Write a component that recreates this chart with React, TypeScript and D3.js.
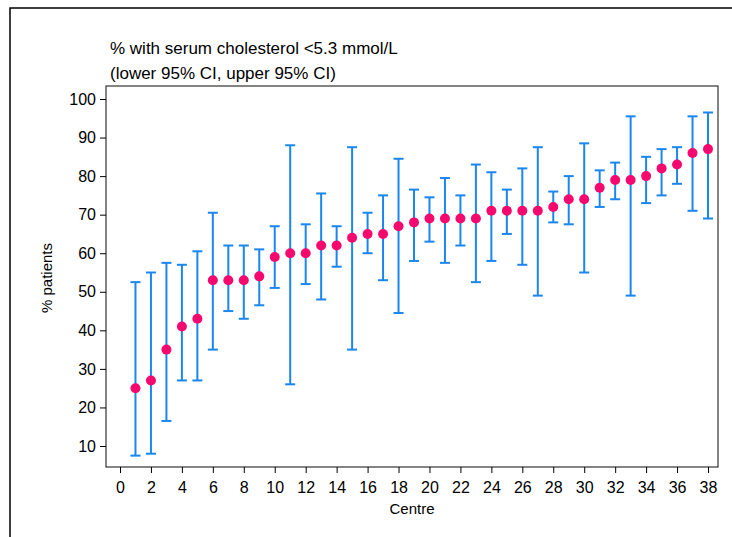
import React, { useRef, useEffect } from 'react';
import * as d3 from "d3";

const centres = d3.range(1, 39);
const pct = [25, 27, 35, 41, 43, 53, 53, 53, 54, 59, 60, 60, 62, 62, 64, 65, 65, 67, 68, 69, 69, 69, 69, 71, 71, 71, 71, 72, 74, 74, 77, 79, 79, 80, 82, 83, 86, 87];
const lower = [7.5, 8, 16.5, 27, 27, 35, 45, 43, 46.5, 51, 26, 52, 48, 56.5, 35, 60, 53, 44.5, 58, 63, 57.5, 62, 52.5, 58, 65, 57, 49, 68, 67.5, 55, 72, 74, 49, 73, 75, 78, 71, 69];
const upper = [52.5, 55, 57.5, 57, 60.5, 70.5, 62, 62, 61, 67, 88, 67.5, 75.5, 67, 87.5, 70.5, 75, 84.5, 76.5, 74.5, 79.5, 75, 83, 81, 76.5, 82, 87.5, 76, 80, 88.5, 81.5, 83.5, 95.5, 85, 87, 87.5, 95.5, 96.5];
const xTicks = d3.range(0, 39, 2);
const yTicks = d3.range(10, 101, 10);

const App: React.FC = () => {
  const svgRef = useRef<SVGSVGElement | null>(null);

  useEffect(() => {
    const svg = d3.select(svgRef.current);
    svg.selectAll("*").remove();
    const font = "Liberation Sans, Arial, sans-serif";

    // outer frame (partly cropped)
    svg.append("path").attr("d", "M10,537 V8 H732").attr("fill", "none").attr("stroke", "#000").attr("stroke-width", 1.5);

    const left = 106, right = 718, top = 86, bottom = 467;
    svg.append("rect").attr("x", left).attr("y", top).attr("width", right - left).attr("height", bottom - top)
      .attr("fill", "none").attr("stroke", "#333").attr("stroke-width", 1.2);

    const x = d3.scaleLinear().domain([0, 38]).range([120, 708]);
    const y = d3.scaleLinear().domain([10, 100]).range([446, 99]);

    svg.append("g").attr("transform", `translate(0,${bottom})`)
      .call(d3.axisBottom(x).tickValues(xTicks).tickSize(6).tickPadding(9))
      .call(g => g.select(".domain").remove())
      .call(g => g.selectAll("text").attr("font-size", 16).attr("font-family", font).attr("fill", "#000"));
    svg.append("g").attr("transform", `translate(${left},0)`)
      .call(d3.axisLeft(y).tickValues(yTicks).tickSize(6).tickPadding(4))
      .call(g => g.select(".domain").remove())
      .call(g => g.selectAll("text").attr("font-size", 16).attr("font-family", font).attr("fill", "#000"));

    svg.append("text").attr("x", 412).attr("y", 514).attr("text-anchor", "middle")
      .attr("font-size", 15).attr("font-family", font).text("Centre");
    svg.append("text").attr("transform", "translate(52,278) rotate(-90)").attr("text-anchor", "middle")
      .attr("font-size", 15).attr("font-family", font).text("% patients");
    svg.append("text").attr("x", 110).attr("y", 54).attr("font-size", 17).attr("font-family", font)
      .text("% with serum cholesterol <5.3 mmol/L");
    svg.append("text").attr("x", 110).attr("y", 79).attr("font-size", 17).attr("font-family", font)
      .text("(lower 95% CI, upper 95% CI)");

    const blue = "#1a86f0";
    const g = svg.append("g");
    centres.forEach((c, i) => {
      const cx = x(c);
      g.append("line").attr("x1", cx).attr("x2", cx).attr("y1", y(lower[i])).attr("y2", y(upper[i]))
        .attr("stroke", blue).attr("stroke-width", 2);
      [lower[i], upper[i]].forEach(v => {
        g.append("line").attr("x1", cx - 5).attr("x2", cx + 5).attr("y1", y(v)).attr("y2", y(v))
          .attr("stroke", blue).attr("stroke-width", 2);
      });
    });
    centres.forEach((c, i) => {
      g.append("circle").attr("cx", x(c)).attr("cy", y(pct[i])).attr("r", 5).attr("fill", "#f5096f");
    });
  }, []);

  return <svg ref={svgRef} width={732} height={537} style={{ position: "absolute", left: 0, top: 0 }}></svg>;
};

export default App;
